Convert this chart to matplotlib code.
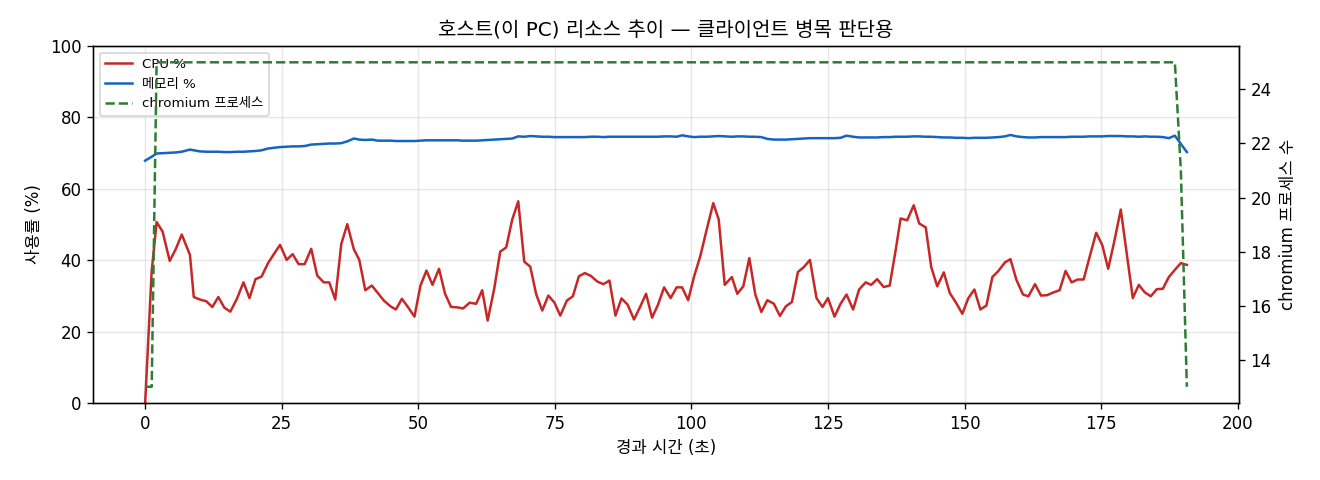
import matplotlib
matplotlib.use("Agg")
import matplotlib.pyplot as plt

plt.rcParams['font.family'] = ['DejaVu Sans', 'Noto Sans CJK KR']
plt.rcParams['axes.unicode_minus'] = False

elapsed_s = [
    0.0, 1.2, 2.1, 3.2, 4.5, 5.6, 6.7, 8.2, 8.9, 10.0,
    11.2, 12.3, 13.4, 14.5, 15.6, 16.8, 18.0, 19.1, 20.2, 21.3,
    22.5, 23.6, 24.7, 25.9, 27.0, 28.1, 29.2, 30.4, 31.5, 32.7,
    33.7, 34.8, 35.9, 37.0, 38.2, 39.2, 40.3, 41.5, 42.6, 43.7,
    44.9, 45.9, 47.0, 48.1, 49.3, 50.4, 51.5, 52.6, 53.8, 54.9,
    56.0, 57.1, 58.2, 59.4, 60.6, 61.7, 62.7, 63.9, 65.0, 66.1,
    67.2, 68.3, 69.4, 70.5, 71.6, 72.7, 73.8, 74.9, 76.0, 77.2,
    78.3, 79.4, 80.5, 81.6, 82.8, 83.9, 85.0, 86.1, 87.2, 88.3,
    89.5, 90.6, 91.7, 92.8, 93.9, 95.0, 96.2, 97.3, 98.3, 99.4,
    100.5, 101.6, 102.8, 104.0, 105.0, 106.1, 107.4, 108.4, 109.5, 110.6,
    111.7, 112.8, 113.9, 115.1, 116.2, 117.3, 118.4, 119.5, 120.6, 121.7,
    122.9, 124.0, 125.0, 126.2, 127.3, 128.4, 129.6, 130.7, 131.9, 132.9,
    134.0, 135.2, 136.3, 137.4, 138.3, 139.5, 140.7, 141.7, 142.9, 143.9,
    145.0, 146.2, 147.3, 148.4, 149.6, 150.7, 151.8, 152.9, 154.0, 155.1,
    156.2, 157.4, 158.4, 159.5, 160.7, 161.7, 162.9, 164.0, 165.1, 166.3,
    167.4, 168.5, 169.6, 170.7, 171.8, 173.0, 174.1, 175.2, 176.3, 177.4,
    178.6, 179.7, 180.8, 181.9, 183.0, 184.1, 185.2, 186.3, 187.4, 188.5,
    189.6, 190.7,
]

cpu_pct = [
    0.0, 37.0, 50.7, 48.0, 39.8, 43.1, 47.2, 41.5, 29.7, 29.0,
    28.5, 26.9, 29.7, 26.7, 25.6, 29.2, 33.8, 29.4, 34.7, 35.4,
    39.2, 41.8, 44.3, 40.1, 41.7, 38.9, 38.9, 43.2, 35.7, 33.8,
    33.8, 29.0, 44.5, 50.1, 43.1, 40.1, 31.6, 32.9, 30.8, 28.7,
    27.1, 26.2, 29.2, 26.9, 24.2, 32.9, 37.1, 33.1, 37.6, 30.6,
    26.9, 26.8, 26.5, 28.1, 27.8, 31.6, 23.1, 32.0, 42.4, 43.6,
    51.4, 56.5, 39.6, 38.2, 30.4, 25.9, 30.1, 28.2, 24.5, 28.7,
    29.9, 35.5, 36.4, 35.6, 34.0, 33.3, 34.3, 24.5, 29.3, 27.6,
    23.4, 26.9, 30.6, 23.9, 27.6, 32.4, 29.4, 32.4, 32.4, 28.8,
    35.5, 41.0, 48.6, 56.0, 51.4, 33.1, 35.3, 30.6, 32.7, 40.6,
    30.4, 25.5, 28.8, 27.8, 24.4, 27.1, 28.3, 36.7, 38.1, 40.1,
    29.4, 26.9, 29.4, 24.2, 27.8, 30.4, 26.2, 31.8, 33.8, 33.1,
    34.7, 32.5, 32.9, 42.9, 51.7, 51.2, 55.4, 50.3, 49.2, 38.1,
    32.7, 36.6, 30.8, 28.2, 25.0, 29.4, 31.8, 26.2, 27.3, 35.3,
    37.0, 39.4, 40.3, 34.5, 30.4, 29.9, 33.3, 30.1, 30.2, 31.0,
    31.6, 37.0, 33.8, 34.6, 34.6, 41.5, 47.7, 44.3, 37.6, 45.2,
    54.2, 41.9, 29.4, 33.1, 31.0, 29.9, 31.9, 32.0, 35.3, 37.3,
    39.2, 38.7,
]

mem_pct = [
    67.9, 69.0, 69.9, 70.0, 70.1, 70.2, 70.4, 71.0, 70.8, 70.5,
    70.4, 70.4, 70.4, 70.3, 70.3, 70.4, 70.4, 70.5, 70.6, 70.8,
    71.3, 71.5, 71.7, 71.8, 71.9, 71.9, 72.0, 72.4, 72.5, 72.6,
    72.7, 72.7, 72.8, 73.3, 74.1, 73.8, 73.7, 73.8, 73.5, 73.5,
    73.5, 73.4, 73.4, 73.4, 73.4, 73.5, 73.6, 73.6, 73.6, 73.6,
    73.6, 73.6, 73.5, 73.5, 73.5, 73.6, 73.7, 73.8, 73.9, 74.0,
    74.1, 74.7, 74.6, 74.8, 74.7, 74.6, 74.6, 74.5, 74.5, 74.5,
    74.5, 74.5, 74.5, 74.6, 74.6, 74.5, 74.6, 74.6, 74.6, 74.6,
    74.6, 74.6, 74.6, 74.6, 74.6, 74.7, 74.7, 74.6, 75.0, 74.7,
    74.5, 74.6, 74.6, 74.7, 74.8, 74.7, 74.6, 74.7, 74.7, 74.6,
    74.6, 74.5, 74.0, 73.8, 73.8, 73.8, 73.9, 74.0, 74.1, 74.2,
    74.2, 74.2, 74.2, 74.2, 74.3, 74.9, 74.6, 74.4, 74.4, 74.4,
    74.4, 74.5, 74.5, 74.6, 74.6, 74.6, 74.7, 74.7, 74.6, 74.6,
    74.5, 74.4, 74.4, 74.3, 74.3, 74.2, 74.3, 74.3, 74.3, 74.4,
    74.5, 74.7, 75.1, 74.7, 74.5, 74.4, 74.4, 74.5, 74.5, 74.5,
    74.5, 74.5, 74.6, 74.6, 74.6, 74.7, 74.7, 74.7, 74.8, 74.8,
    74.8, 74.7, 74.7, 74.6, 74.7, 74.6, 74.6, 74.5, 74.2, 74.9,
    72.6, 70.3,
]

chromium_procs = [13, 13] + [25] * 168 + [21, 13]

title = "호스트(이 PC) 리소스 추이 — 클라이언트 병목 판단용"
xlabel = "경과 시간 (초)"
ylabel_left = "사용률 (%)"
ylabel_right = "chromium 프로세스 수"
labels = ["CPU %", "메모리 %", "chromium 프로세스"]

fig = plt.figure(figsize=(11, 4), dpi=120)
ax1 = fig.add_axes([0.0705, 0.1604, 0.8681, 0.7436])
ax2 = ax1.twinx()

l1, = ax1.plot(elapsed_s, cpu_pct, color="#c62828", lw=1.5, label=labels[0])
l2, = ax1.plot(elapsed_s, mem_pct, color="#1565c0", lw=1.5, label=labels[1])
l3, = ax2.plot(elapsed_s, chromium_procs, color="#2e7d32", lw=1.5, ls="--", label=labels[2])

ax1.set_ylim(0, 100)
ax1.grid(True, alpha=0.3)
ax1.set_xlabel(xlabel)
ax1.set_ylabel(ylabel_left)
ax2.set_ylabel(ylabel_right)
ax1.set_title(title, fontsize=12)
ax1.legend(handles=[l1, l2, l3], loc="upper left", fontsize=8)

fig.savefig("out.png", dpi=120)
